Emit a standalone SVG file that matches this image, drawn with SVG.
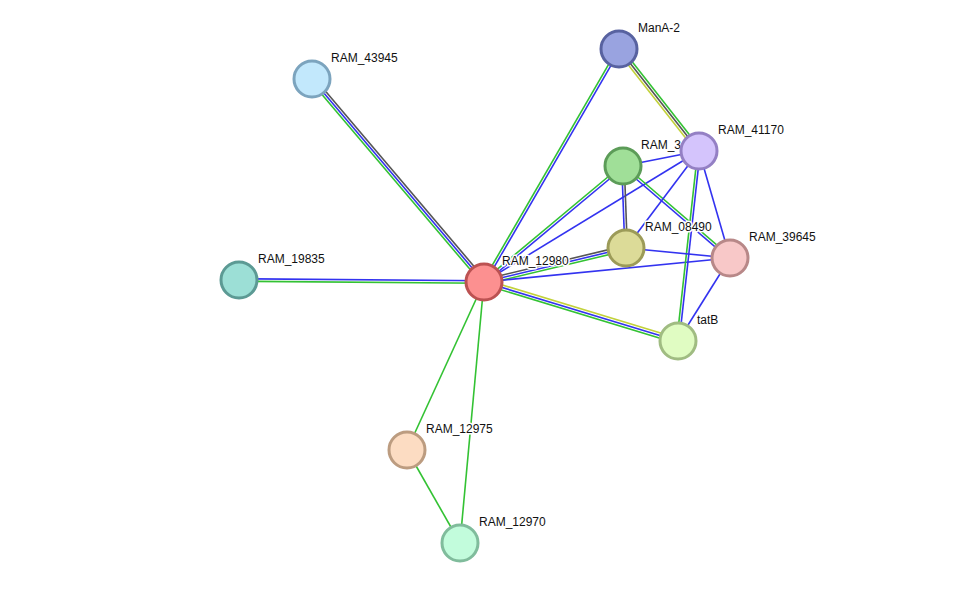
<svg xmlns="http://www.w3.org/2000/svg" width="975" height="589" viewBox="0 0 975 589">
<style>
.e{fill:none;stroke-width:1.6}
.g{stroke:#33c233}.b{stroke:#3333f0}.k{stroke:#555555}.y{stroke:#c2d23a}
circle{stroke-width:3}
text{font-family:"Liberation Sans",Arial,sans-serif;font-size:12px;fill:#111;stroke:#fff;stroke-width:3px;paint-order:stroke;stroke-linejoin:round}
</style>
<rect width="975" height="589" fill="#fff"/>
<g id="edges">
<line class="e k" x1="485.9" y1="280.4" x2="313.9" y2="77.4"/>
<line class="e b" x1="484" y1="282" x2="312" y2="79"/>
<line class="e g" x1="482.1" y1="283.6" x2="310.1" y2="80.6"/>
<line class="e b" x1="484" y1="280.8" x2="239" y2="278.8"/>
<line class="e g" x1="484" y1="283.3" x2="239" y2="281.3"/>
<line class="e b" x1="485.1" y1="282.6" x2="620.1" y2="49.6"/>
<line class="e g" x1="482.9" y1="281.4" x2="617.9" y2="48.4"/>
<line class="e b" x1="484.8" y1="283" x2="623.8" y2="167"/>
<line class="e g" x1="483.2" y1="281" x2="622.2" y2="165"/>
<line class="e b" x1="484" y1="282" x2="699" y2="151"/>
<line class="e k" x1="483.4" y1="279.6" x2="625.4" y2="245.6"/>
<line class="e b" x1="484" y1="282" x2="626" y2="248"/>
<line class="e g" x1="484.6" y1="284.4" x2="626.6" y2="250.4"/>
<line class="e b" x1="484" y1="282" x2="730" y2="258"/>
<line class="e y" x1="484.7" y1="279.6" x2="678.7" y2="338.6"/>
<line class="e b" x1="484" y1="282" x2="678" y2="341"/>
<line class="e g" x1="483.3" y1="284.4" x2="677.3" y2="343.4"/>
<line class="e g" x1="484" y1="282" x2="407" y2="450"/>
<line class="e g" x1="484" y1="282" x2="460" y2="543"/>
<line class="e g" x1="407" y1="450" x2="460" y2="543"/>
<line class="e g" x1="621" y1="47.5" x2="701" y2="149.5"/>
<line class="e k" x1="619" y1="49" x2="699" y2="151"/>
<line class="e y" x1="617" y1="50.5" x2="697" y2="152.5"/>
<line class="e b" x1="623" y1="166" x2="699" y2="151"/>
<line class="e b" x1="621.8" y1="166" x2="624.8" y2="248"/>
<line class="e k" x1="624.3" y1="166" x2="627.3" y2="248"/>
<line class="e g" x1="623.8" y1="165" x2="730.8" y2="257"/>
<line class="e b" x1="622.2" y1="167" x2="729.2" y2="259"/>
<line class="e b" x1="699" y1="151" x2="626" y2="248"/>
<line class="e b" x1="699" y1="151" x2="730" y2="258"/>
<line class="e g" x1="697.8" y1="150.9" x2="676.8" y2="340.9"/>
<line class="e b" x1="700.2" y1="151.1" x2="679.2" y2="341.1"/>
<line class="e b" x1="626" y1="248" x2="730" y2="258"/>
<line class="e b" x1="730" y1="258" x2="678" y2="341"/>
</g>
<g id="RAM_43945"><circle cx="312" cy="79" r="18" fill="#c2e8fc" stroke="#7ca4be"/><text x="331" y="62">RAM_43945</text></g>
<g id="RAM_19835"><circle cx="239" cy="280" r="18" fill="#9cdfd6" stroke="#5c9a94"/><text x="258" y="263">RAM_19835</text></g>
<g id="ManA-2"><circle cx="619" cy="49" r="18" fill="#99a3e0" stroke="#5862a0"/><text x="638" y="32">ManA-2</text></g>
<g id="RAM_3"><circle cx="623" cy="166" r="18" fill="#a0df98" stroke="#5c9c58"/><text x="641" y="149">RAM_3</text></g>
<g id="RAM_41170"><circle cx="699" cy="151" r="18" fill="#d4c4fc" stroke="#9480c4"/><text x="718" y="134">RAM_41170</text></g>
<g id="RAM_08490"><circle cx="626" cy="248" r="18" fill="#dcdb98" stroke="#9c9b58"/><text x="645" y="231">RAM_08490</text></g>
<g id="RAM_39645"><circle cx="730" cy="258" r="18" fill="#f8c8c8" stroke="#b88888"/><text x="749" y="241">RAM_39645</text></g>
<g id="tatB"><circle cx="678" cy="341" r="18" fill="#e0fcc2" stroke="#a0bc82"/><text x="697" y="324">tatB</text></g>
<g id="RAM_12980"><circle cx="484" cy="282" r="18" fill="#fc9090" stroke="#bc5252"/><text x="502" y="265">RAM_12980</text></g>
<g id="RAM_12975"><circle cx="407" cy="450" r="18" fill="#fcdcc2" stroke="#bc9c80"/><text x="426" y="433">RAM_12975</text></g>
<g id="RAM_12970"><circle cx="460" cy="543" r="18" fill="#c2fcdc" stroke="#80bc9c"/><text x="479" y="526">RAM_12970</text></g>
</svg>
